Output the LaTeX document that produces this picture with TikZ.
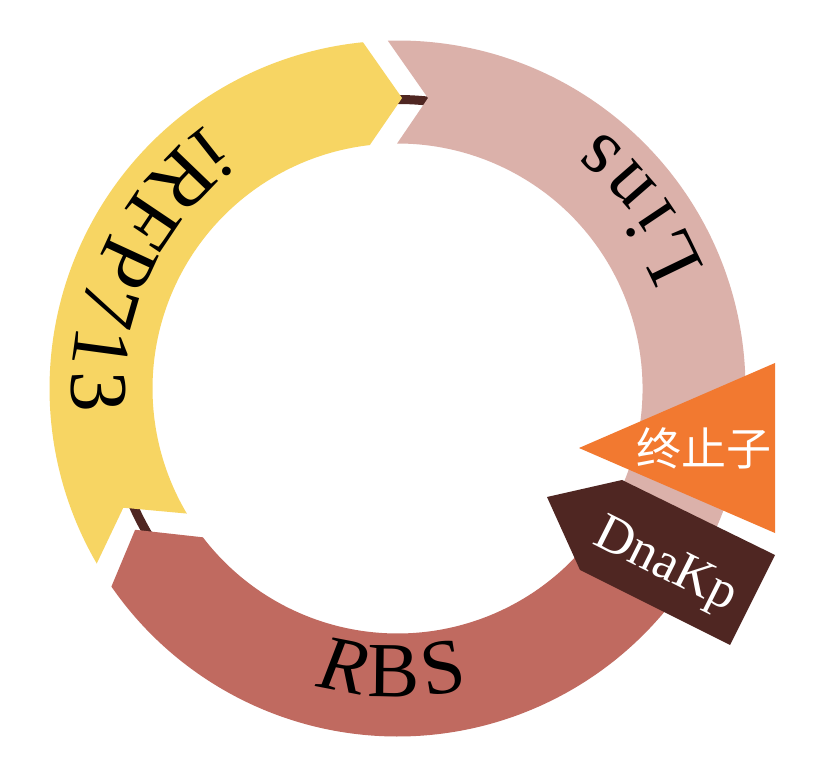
\documentclass[tikz,border=0pt]{standalone}
\usepackage{fontspec}
\setmainfont{Liberation Serif}
\newfontfamily\cjkfont{Noto Sans CJK SC}
\usetikzlibrary{decorations.text}
\definecolor{cYellow}{HTML}{F7D563}
\definecolor{cPink}{HTML}{DBB1AA}
\definecolor{cRBS}{HTML}{C06A60}
\definecolor{cDark}{HTML}{4F2622}
\definecolor{cOrange}{HTML}{F27930}
\begin{document}
\begin{tikzpicture}[x=1pt,y=1pt,
  backbone/.style={draw=cDark, line width=9},
  arclabel/.style={decorate, decoration={text along path, text align={fit to path}, text={#1}}},
  boxlabel/.style={text=white, inner sep=0pt},
]
\useasboundingbox (0,0) rectangle (835,769);
\fill[white] (0,0) rectangle (835,769);
\begin{scope}[shift={(397.5,380.5)}]
  \coordinate (C) at (0,0);
  % backbone
  \path[backbone] (C) circle[radius=289];
  % Lins (pink)
  \fill[cPink] (91.6:348) arc[start angle=91.6, end angle=-25, radius=348]
     -- (-32:296.5) -- (-25:245) arc[start angle=-25, end angle=90.1, radius=245]
     -- (84:292) -- cycle;
  % RBS
  \fill[cRBS] (-33:348) arc[start angle=-33, end angle=-145.3, radius=348]
     -- (-151.7:298) -- (-142.6:245) arc[start angle=-142.6, end angle=-33, radius=245]
     -- (-27:296.5) -- cycle;
  % iRFP713 (yellow)
  \fill[cYellow] (210.2:348) arc[start angle=210.2, end angle=95.7, radius=348]
     -- (89.1:290.5) -- (96.5:245) arc[start angle=96.5, end angle=210.7, radius=245]
     -- (203.5:299) -- cycle;
  % DnaKp box
  \fill[cDark] (149.5,-108.5) -- (224.5,-91.5) -- (377.5,-166.5) -- (332.5,-256.5) -- (182.5,-181.5) -- cycle;
  % terminator triangle
  \fill[cOrange] (377.5,25.5) -- (377.5,-144.5) -- (181.5,-59.5) -- cycle;
  % labels along arcs
  \path[arclabel={|\fontsize{80}{84}\selectfont|Lins}] (21.5:329) arc[start angle=21.5, end angle=51.8, radius=329];
  \path[arclabel={|\fontsize{82}{86}\selectfont|iRFP713}] (126.2:326) arc[start angle=126.2, end angle=184.2, radius=326];
  \path[arclabel={|\fontsize{78}{82}\selectfont\itshape|R|\fontsize{78}{82}\selectfont\upshape|BS}] (254.6:308.5) arc[start angle=254.6, end angle=283.3, radius=308.5];
  % box labels
  \node[boxlabel, font=\cjkfont\fontsize{45}{45}\selectfont] (term) at (306.5,-59.5) {终止子};
  \node[boxlabel, rotate=-26.6, font=\fontsize{53}{53}\selectfont] (dnakp) at (267.5,-178.5) {DnaKp};
\end{scope}
\end{tikzpicture}
\end{document}
